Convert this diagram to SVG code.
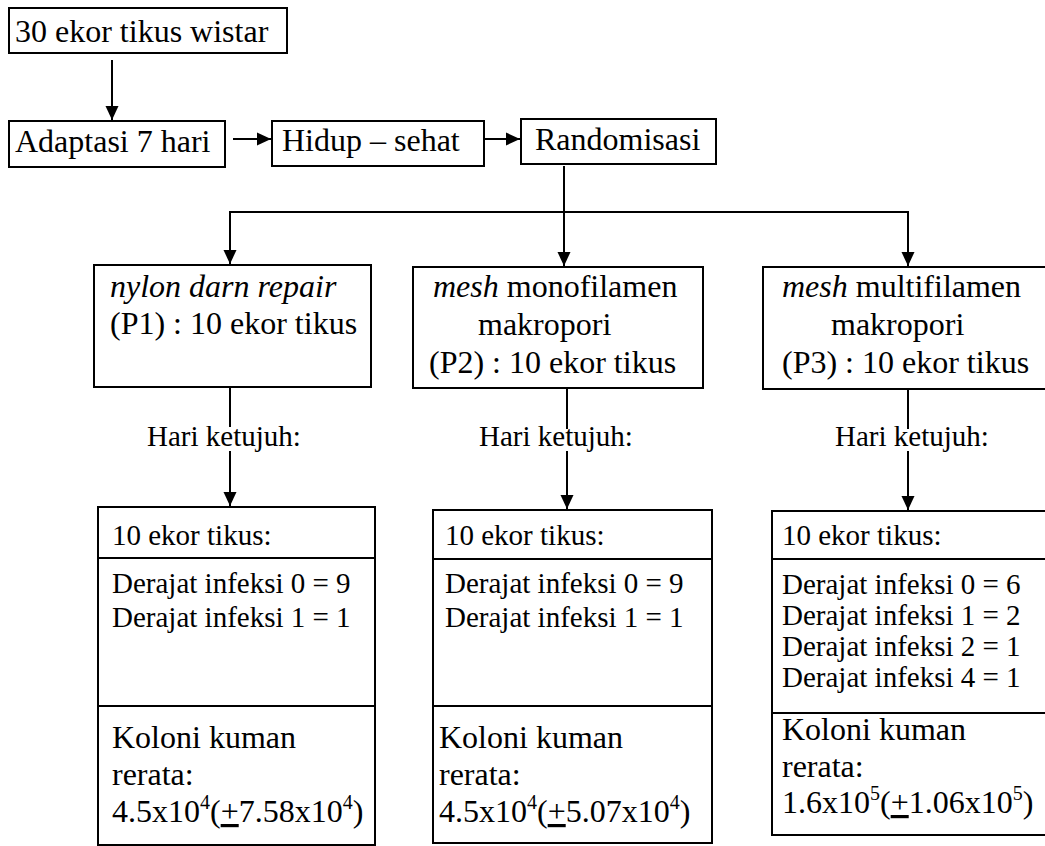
<svg xmlns="http://www.w3.org/2000/svg" width="1045" height="846" viewBox="0 0 1045 846" font-family="'Liberation Serif', serif" fill="#000">
<style>
.box{fill:#fff;stroke:#000;stroke-width:2}
.ln{fill:none;stroke:#000;stroke-width:2}
.u{text-decoration:underline}
</style>
<defs>
<marker id="ah" markerUnits="userSpaceOnUse" markerWidth="15" markerHeight="14" refX="14" refY="7" orient="auto">
<path d="M0,0.5 L14,7 L0,13.5 Z" fill="#000"/>
</marker>
</defs>
<rect width="1045" height="846" fill="#fff"/>
<g id="connectors">
<line class="ln" x1="112" y1="60" x2="112" y2="120" marker-end="url(#ah)"/>
<line class="ln" x1="233" y1="139" x2="271" y2="139" marker-end="url(#ah)"/>
<line class="ln" x1="484" y1="139" x2="520" y2="139" marker-end="url(#ah)"/>
<line class="ln" x1="564" y1="166" x2="564" y2="266" marker-end="url(#ah)"/>
<polyline class="ln" points="230,264 230,212 908,212 908,266" marker-end="url(#ah)"/>
<line class="ln" x1="230" y1="212" x2="230" y2="264" marker-end="url(#ah)"/>
<line class="ln" x1="230" y1="387" x2="230" y2="427"/>
<line class="ln" x1="230" y1="451" x2="230" y2="506" marker-end="url(#ah)"/>
<line class="ln" x1="567" y1="388" x2="567" y2="429"/>
<line class="ln" x1="567" y1="451" x2="567" y2="509" marker-end="url(#ah)"/>
<line class="ln" x1="908" y1="389" x2="908" y2="429"/>
<line class="ln" x1="908" y1="451" x2="908" y2="510" marker-end="url(#ah)"/>
<g font-size="29" font-family="'Liberation Serif', serif">
<text x="147" y="446">Hari ketujuh:</text>
<text x="479" y="446">Hari ketujuh:</text>
<text x="835" y="446">Hari ketujuh:</text>
</g>
</g>
<g id="n-start" font-size="32" font-family="'Liberation Serif', serif">
<rect class="box" x="9" y="8" width="278" height="45"/>
<text x="15" y="42">30 ekor tikus wistar</text>
</g>
<g id="n-adaptasi" font-size="32" font-family="'Liberation Serif', serif">
<rect class="box" x="9" y="121" width="216" height="46"/>
<text x="15" y="152">Adaptasi 7 hari</text>
</g>
<g id="n-hidup" font-size="32" font-family="'Liberation Serif', serif">
<rect class="box" x="272" y="121" width="212" height="45"/>
<text x="282" y="151">Hidup – sehat</text>
</g>
<g id="n-random" font-size="32" font-family="'Liberation Serif', serif">
<rect class="box" x="521" y="119" width="195" height="45"/>
<text x="535" y="150">Randomisasi</text>
</g>
<g id="n-p1" font-size="32" font-family="'Liberation Serif', serif">
<rect class="box" x="94" y="265" width="277" height="122"/>
<text x="110" y="297" font-style="italic">nylon darn repair</text>
<text x="110" y="334">(P1) : 10 ekor tikus</text>
</g>
<g id="n-p2" font-size="32" font-family="'Liberation Serif', serif">
<rect class="box" x="413" y="267" width="290" height="121"/>
<text x="433" y="297"><tspan font-style="italic">mesh</tspan> monofilamen</text>
<text x="478" y="335">makropori</text>
<text x="429" y="373">(P2) : 10 ekor tikus</text>
</g>
<g id="n-p3" font-size="32" font-family="'Liberation Serif', serif">
<rect class="box" x="763" y="267" width="290" height="122"/>
<text x="782" y="297"><tspan font-style="italic">mesh</tspan> multifilamen</text>
<text x="831" y="335">makropori</text>
<text x="782" y="373">(P3) : 10 ekor tikus</text>
</g>
<g id="n-r1" font-size="32" font-family="'Liberation Serif', serif">
<rect class="box" x="98" y="507" width="277" height="338"/>
<line class="ln" x1="98" y1="558" x2="375" y2="558"/>
<line class="ln" x1="98" y1="706" x2="375" y2="706"/>
<text x="112" y="545" font-size="29">10 ekor tikus:</text>
<text x="112" y="593" font-size="29">Derajat infeksi 0 = 9</text>
<text x="112" y="627" font-size="29">Derajat infeksi 1 = 1</text>
<text x="112" y="748">Koloni kuman</text>
<text x="112" y="785">rerata:</text>
<text x="112" y="822">4.5x10<tspan font-size="20" dy="-13">4</tspan><tspan dy="13">(</tspan><tspan class="u">+</tspan>7.58x10<tspan font-size="20" dy="-13">4</tspan><tspan dy="13">)</tspan></text>
</g>
<g id="n-r2" font-size="32" font-family="'Liberation Serif', serif">
<rect class="box" x="433" y="510" width="279" height="333"/>
<line class="ln" x1="433" y1="559" x2="712" y2="559"/>
<line class="ln" x1="433" y1="706" x2="712" y2="706"/>
<text x="445" y="545" font-size="29">10 ekor tikus:</text>
<text x="445" y="593" font-size="29">Derajat infeksi 0 = 9</text>
<text x="445" y="627" font-size="29">Derajat infeksi 1 = 1</text>
<text x="439" y="748">Koloni kuman</text>
<text x="439" y="785">rerata:</text>
<text x="439" y="822">4.5x10<tspan font-size="20" dy="-13">4</tspan><tspan dy="13">(</tspan><tspan class="u">+</tspan>5.07x10<tspan font-size="20" dy="-13">4</tspan><tspan dy="13">)</tspan></text>
</g>
<g id="n-r3" font-size="32" font-family="'Liberation Serif', serif">
<rect class="box" x="772" y="511" width="281" height="324"/>
<line class="ln" x1="772" y1="559" x2="1053" y2="559"/>
<line class="ln" x1="772" y1="713" x2="1053" y2="713"/>
<text x="782" y="545" font-size="29">10 ekor tikus:</text>
<text x="782" y="594" font-size="29">Derajat infeksi 0 = 6</text>
<text x="782" y="625" font-size="29">Derajat infeksi 1 = 2</text>
<text x="782" y="656" font-size="29">Derajat infeksi 2 = 1</text>
<text x="782" y="687" font-size="29">Derajat infeksi 4 = 1</text>
<text x="782" y="740">Koloni kuman</text>
<text x="782" y="777">rerata:</text>
<text x="782" y="813">1.6x10<tspan font-size="20" dy="-13">5</tspan><tspan dy="13">(</tspan><tspan class="u">+</tspan>1.06x10<tspan font-size="20" dy="-13">5</tspan><tspan dy="13">)</tspan></text>
</g>
</svg>
